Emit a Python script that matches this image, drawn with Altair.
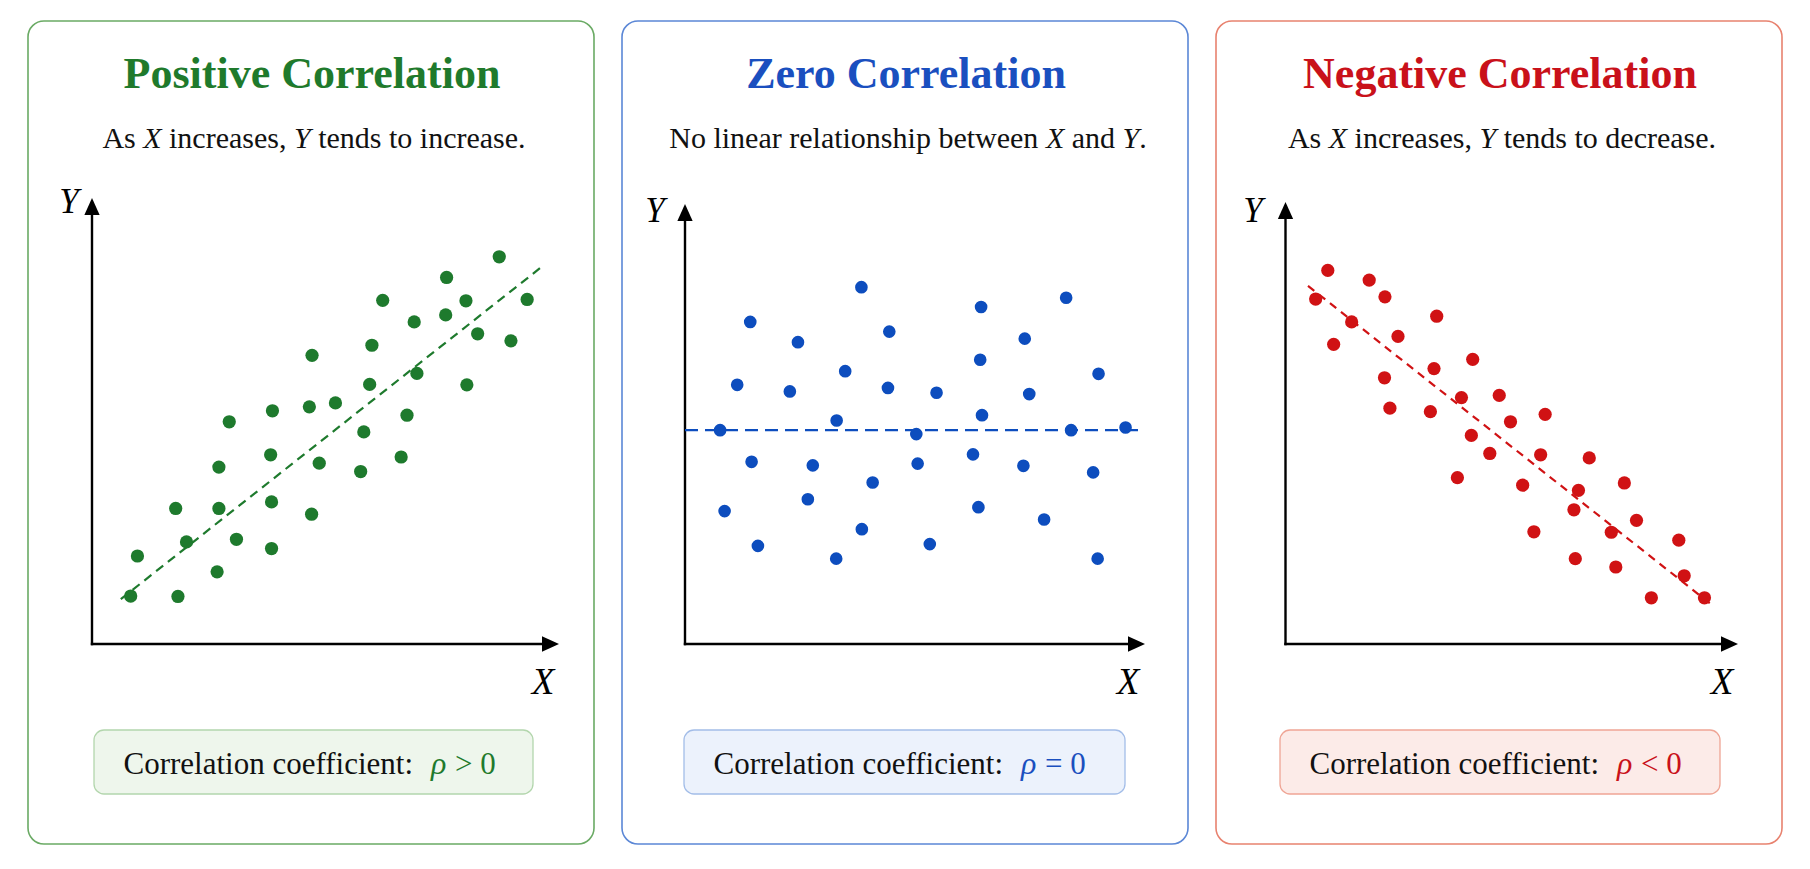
import altair as alt
import pandas as pd

# ---- scatter data (units measured from the axis corner) ----
pos_x = [9.05, 7.88, 6.46, 8.31, 9.67, 7.86, 7.16, 8.57, 9.31, 6.22, 4.89, 7.22, 6.17, 8.33,
         5.41, 4.83, 4.01, 3.05, 7.00, 6.04, 3.97, 2.82, 5.05, 6.87, 5.97, 1.86, 2.82, 3.99,
         4.88, 2.10, 3.21, 3.99, 1.01, 2.78, 0.86, 1.91]
pos_y = [8.80, 8.33, 7.81, 7.80, 7.83, 7.48, 7.32, 7.05, 6.89, 6.79, 6.56, 6.15, 5.90, 5.89,
         5.48, 5.39, 5.30, 5.05, 5.20, 4.82, 4.30, 4.02, 4.11, 4.25, 3.92, 3.08, 3.08, 3.23,
         2.95, 2.32, 2.38, 2.17, 2.00, 1.64, 1.09, 1.08]
pos_fit_x = [0.64, 10.04]
pos_fit_y = [1.02, 8.61]

zero_x = [3.92, 1.45, 2.51, 4.54, 6.58, 8.47, 7.55, 6.56, 9.19, 1.16, 2.33, 3.56, 4.51,
          5.59, 7.65, 3.37, 6.60, 0.78, 5.14, 8.58, 9.79, 1.48, 2.84, 5.17, 6.40, 7.52,
          9.07, 4.17, 0.88, 2.73, 6.52, 7.98, 3.93, 1.62, 5.44, 3.36, 9.17]
zero_y = [8.11, 7.32, 6.86, 7.10, 7.66, 7.87, 6.94, 6.46, 6.14, 5.89, 5.74, 6.20, 5.82,
          5.71, 5.68, 5.08, 5.20, 4.86, 4.77, 4.86, 4.92, 4.14, 4.06, 4.10, 4.31, 4.05,
          3.90, 3.67, 3.02, 3.29, 3.11, 2.83, 2.61, 2.23, 2.27, 1.94, 1.94]
zero_fit_x = [0.0, 10.1]
zero_fit_y = [4.86, 4.86]

neg_x = [0.94, 1.86, 2.21, 0.67, 3.36, 1.47, 2.50, 1.07, 4.16, 3.30, 2.20, 3.91, 4.75,
         2.32, 3.22, 5.77, 5.00, 4.13, 4.54, 5.67, 6.75, 3.82, 5.27, 6.51, 7.53, 6.41,
         7.80, 7.24, 5.52, 8.74, 6.44, 7.34, 8.86, 8.13, 9.31]
neg_y = [8.49, 8.27, 7.89, 7.84, 7.45, 7.32, 6.99, 6.81, 6.47, 6.26, 6.05, 5.60, 5.65,
         5.36, 5.28, 5.22, 5.05, 4.74, 4.33, 4.30, 4.23, 3.78, 3.61, 3.49, 3.66, 3.05,
         2.81, 2.54, 2.55, 2.36, 1.94, 1.75, 1.55, 1.05, 1.05]
neg_fit_x = [0.50, 9.46]
neg_fit_y = [8.14, 0.90]

titles = ["Positive Correlation", "Zero Correlation", "Negative Correlation"]
relations = ["> 0", "= 0", "< 0"]

# ---- layout ----
PANEL_W, PANEL_H = 566, 823
UNIT_X, UNIT_Y = 45.0, 44.0
AXIS_Y = 623
BOX_TOP, BOX_BOTTOM = 709, 773
SERIF = "Liberation Serif"

# advance widths (1/1000 em) used to lay out mixed upright/italic captions
TIMES = {" ": 250, ",": 250, ".": 250, "A": 722, "N": 722, "X": 722, "Y": 722,
         "a": 444, "b": 500, "c": 444, "d": 500, "e": 444, "f": 333, "h": 500,
         "i": 278, "l": 278, "n": 500, "o": 500, "p": 500, "r": 333, "s": 389,
         "t": 278, "w": 722}
TIMES_ITALIC = {"X": 611, "Y": 556}


def seg_width(text, italic, size):
    total = 0
    for ch in text:
        if italic and ch in TIMES_ITALIC:
            total += TIMES_ITALIC[ch]
        else:
            total += TIMES.get(ch, 500)
    return total * size / 1000.0


one = pd.DataFrame({"k": [0]})

UP_ARROW = "M0,-1L0.9,1L-0.9,1Z"
RIGHT_ARROW = "M1,0L-1,-0.9L-1,0.9Z"


def text_layer(txt, x, y, size, color="#111111", align="center", italic=False, bold=False):
    kw = dict(text=txt, font=SERIF, fontSize=size, color=color, align=align,
              baseline="alphabetic")
    if italic:
        kw["fontStyle"] = "italic"
    if bold:
        kw["fontWeight"] = "bold"
    return alt.Chart(one).mark_text(**kw).encode(x=alt.value(x), y=alt.value(y))


def panel(p):
    ox = p["ox"]
    xs = alt.Scale(domain=[-ox / UNIT_X, (PANEL_W - ox) / UNIT_X], nice=False, zero=False)
    ys = alt.Scale(domain=[-(PANEL_H - AXIS_Y) / UNIT_Y, AXIS_Y / UNIT_Y], nice=False, zero=False)
    layers = []

    # coefficient box
    layers.append(
        alt.Chart(one).mark_rect(cornerRadius=10, fill=p["box_fill"], stroke=p["box_stroke"],
                                 strokeWidth=1.3)
        .encode(x=alt.value(p["box"][0]), x2=alt.value(p["box"][1]),
                y=alt.value(BOX_TOP), y2=alt.value(BOX_BOTTOM))
    )

    # axes with arrowheads
    layers.append(
        alt.Chart(one).mark_rule(color="black", strokeWidth=2.4)
        .encode(x=alt.value(ox), x2=alt.value(ox),
                y=alt.value(AXIS_Y + 1.2), y2=alt.value(p["tip_y"] + 12))
    )
    layers.append(
        alt.Chart(one).mark_rule(color="black", strokeWidth=2.4)
        .encode(x=alt.value(ox - 1.2), x2=alt.value(p["tip_x"] - 12),
                y=alt.value(AXIS_Y), y2=alt.value(AXIS_Y))
    )
    layers.append(
        alt.Chart(one).mark_point(shape=UP_ARROW, size=289, filled=True, color="black",
                                  opacity=1, strokeWidth=0)
        .encode(x=alt.value(ox), y=alt.value(p["tip_y"] + 8.5))
    )
    layers.append(
        alt.Chart(one).mark_point(shape=RIGHT_ARROW, size=289, filled=True, color="black",
                                  opacity=1, strokeWidth=0)
        .encode(x=alt.value(p["tip_x"] - 8.5), y=alt.value(AXIS_Y))
    )

    # trend line and scatter
    fit = pd.DataFrame({"x": p["fit_x"], "y": p["fit_y"]})
    layers.append(
        alt.Chart(fit).mark_line(color=p["dot"], strokeWidth=p["lw"], strokeDash=p["dash"])
        .encode(x=alt.X("x:Q", scale=xs, axis=None), y=alt.Y("y:Q", scale=ys, axis=None))
    )
    pts = pd.DataFrame({"x": p["xs"], "y": p["ys"]})
    layers.append(
        alt.Chart(pts).mark_circle(size=p["size"], color=p["dot"], opacity=1)
        .encode(x=alt.X("x:Q", scale=xs, axis=None), y=alt.Y("y:Q", scale=ys, axis=None))
    )

    # title and caption
    layers.append(text_layer(p["title"], 284, 67, 44, color=p["dark"], bold=True))
    size = 30
    total = 0.0
    widths = []
    for txt, it, sp in p["caption"]:
        w = seg_width(txt, it, size)
        gap = seg_width(" ", False, size) if sp else 0.0
        widths.append((gap, w))
        total += gap + w
    cursor = 286 - total / 2.0
    for (txt, it, sp), (gap, w) in zip(p["caption"], widths):
        cursor += gap
        layers.append(text_layer(txt, cursor, 127, size, align="left", italic=it))
        cursor += w

    # axis names
    layers.append(text_layer("Y", p["ylab"][0], p["ylab"][1], 35, color="black", italic=True))
    layers.append(text_layer("X", p["xlab"], 673, 37, color="black", italic=True))

    # coefficient text
    xc = p["box"][0] + 319
    layers.append(text_layer("Correlation coefficient:", xc, 753, 31, align="right"))
    layers.append(text_layer("\u03c1", xc + 18, 753, 32, color=p["dark"], align="left", italic=True))
    layers.append(text_layer(p["rel"], xc + 42, 753, 31, color=p["dark"], align="left"))

    return alt.layer(*layers).properties(
        width=PANEL_W, height=PANEL_H,
        view=alt.ViewBackground(fill="white", stroke=p["border"], strokeWidth=1.6,
                                cornerRadius=16),
    )


panels = [
    dict(title=titles[0], rel=relations[0], xs=pos_x, ys=pos_y, fit_x=pos_fit_x, fit_y=pos_fit_y,
         dark="#1f7a2c", dot="#1e7a2d", border="#6aaa64", box_fill="#eef6ec",
         box_stroke="#b3d6ad", ox=64, tip_y=177, tip_x=531, ylab=(41, 192), xlab=515,
         box=(66, 505), dash=[9, 6], lw=2.2, size=175,
         caption=[("As", False, False), ("X", True, True), ("increases,", False, True),
                  ("Y", True, True), ("tends to increase.", False, True)]),
    dict(title=titles[1], rel=relations[1], xs=zero_x, ys=zero_y, fit_x=zero_fit_x,
         fit_y=zero_fit_y, dark="#1a4fbf", dot="#0d4dbe", border="#5b87d6",
         box_fill="#ecf2fc", box_stroke="#a3bde8", ox=63, tip_y=183, tip_x=523,
         ylab=(33, 201), xlab=506, box=(62, 503), dash=[13, 7], lw=2.4, size=160,
         caption=[("No linear relationship between", False, False), ("X", True, True),
                  ("and", False, True), ("Y", True, True), (".", False, False)]),
    dict(title=titles[2], rel=relations[2], xs=neg_x, ys=neg_y, fit_x=neg_fit_x,
         fit_y=neg_fit_y, dark="#c9111a", dot="#d01214", border="#e8826f",
         box_fill="#fcebe8", box_stroke="#efa595", ox=69.5, tip_y=181, tip_x=522,
         ylab=(37, 201), xlab=506, box=(64, 504), dash=[8, 6], lw=2.2, size=175,
         caption=[("As", False, False), ("X", True, True), ("increases,", False, True),
                  ("Y", True, True), ("tends to decrease.", False, True)]),
]

chart = (
    alt.hconcat(*[panel(p) for p in panels], spacing=26)
    .resolve_scale(x="independent", y="independent")
    .properties(padding={"left": 27, "top": 20, "right": 10, "bottom": 10})
    .configure(background="white")
)

chart.save("out.html", embed_options={"renderer": "svg", "actions": False})
